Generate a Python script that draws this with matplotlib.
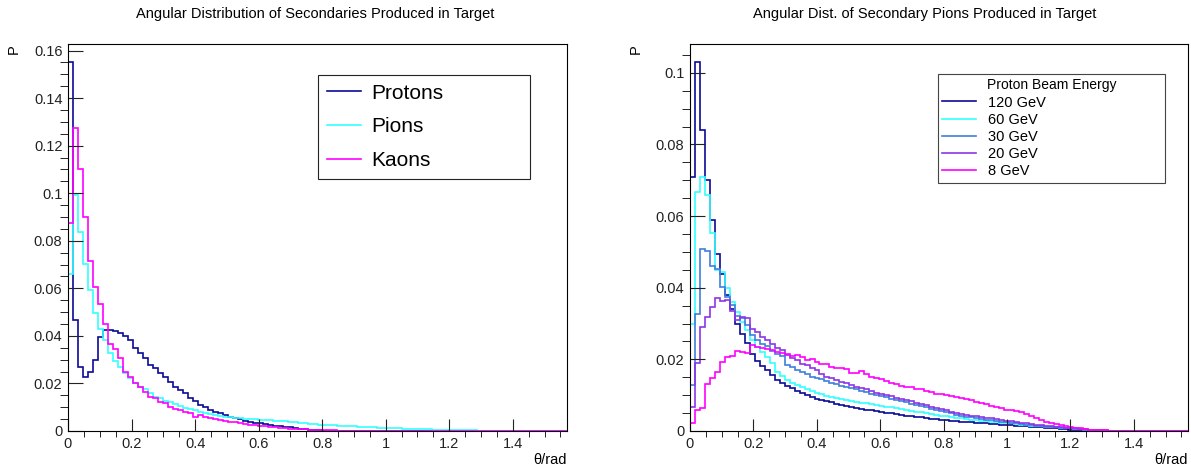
import numpy as np
import matplotlib
matplotlib.use('Agg')
import matplotlib.pyplot as plt
from matplotlib.ticker import MultipleLocator, FuncFormatter

plt.rcParams['font.family'] = ['Liberation Sans', 'DejaVu Sans']

# 100 bins over 0 .. pi/2
edges = np.linspace(0, np.pi / 2, 101)

# left panel: secondaries by species
protons = [0.155, 0.0465, 0.0270, 0.0228, 0.0249, 0.0298, 0.0395, 0.0426, 0.0423, 0.0419,
           0.0412, 0.0398, 0.0381, 0.0351, 0.0326, 0.0307, 0.0277, 0.0263, 0.0244, 0.0228,
           0.0207, 0.0186, 0.0172, 0.0158, 0.0137, 0.0127, 0.0109, 0.0102, 0.0088, 0.0081,
           0.0074, 0.0067, 0.0060, 0.0053, 0.0049, 0.0043, 0.0039, 0.0035, 0.0032, 0.0029,
           0.0026, 0.0023, 0.0020, 0.0018, 0.0015, 0.0013, 0.0010, 0.0008, 0.0006, 0.0005,
           0.0003, 0.0002, 0.0001] + [0.0] * 47
pions = [0.066, 0.0993, 0.0835, 0.0703, 0.0591, 0.0496, 0.0430, 0.0381, 0.0328, 0.0295,
         0.0270, 0.0244, 0.0221, 0.0203, 0.0186, 0.0175, 0.0158, 0.0144, 0.0137, 0.0127,
         0.0120, 0.0113, 0.0105, 0.0098, 0.0092, 0.0088, 0.0082, 0.0077, 0.0071, 0.0067,
         0.0063, 0.0060, 0.0057, 0.0055, 0.0053, 0.0051, 0.0050, 0.0049, 0.0048, 0.0047,
         0.0045, 0.0043, 0.0042, 0.0040, 0.0038, 0.0036, 0.0034, 0.0032, 0.0031, 0.0029,
         0.0027, 0.0026, 0.0025, 0.0024, 0.0022, 0.0021, 0.0020, 0.0019, 0.0018, 0.0017,
         0.0016, 0.0015, 0.0014, 0.0013, 0.0012, 0.0012, 0.0011, 0.0010, 0.0009, 0.0009,
         0.0008, 0.0007, 0.0007, 0.0006, 0.0006, 0.0005, 0.0005, 0.0004, 0.0004, 0.0003,
         0.0003, 0.0003, 0.0002, 0.0002, 0.0002, 0.0001, 0.0001, 0.0001] + [0.0] * 12
kaons = [0.0874, 0.1273, 0.1100, 0.0901, 0.0717, 0.0605, 0.0535, 0.0451, 0.0367, 0.0346,
         0.0305, 0.0249, 0.0228, 0.0203, 0.0186, 0.0165, 0.0144, 0.0137, 0.0123, 0.0116,
         0.0102, 0.0092, 0.0088, 0.0081, 0.0074, 0.0060, 0.0067, 0.0057, 0.0053, 0.0049,
         0.0046, 0.0042, 0.0039, 0.0036, 0.0032, 0.0029, 0.0025, 0.0024, 0.0022, 0.0020,
         0.0018, 0.0016, 0.0013, 0.0011, 0.0010, 0.0008, 0.0007, 0.0007, 0.0006, 0.0005,
         0.0004, 0.0004, 0.0003, 0.0003, 0.0002, 0.0002, 0.0002, 0.0001, 0.0001, 0.0001] + [0.0] * 40

# right panel: secondary pions by proton beam energy
pi_120 = [0.0709, 0.1029, 0.0841, 0.0701, 0.0588, 0.0495, 0.0439, 0.0379, 0.0340, 0.0300,
          0.0270, 0.0245, 0.0215, 0.0195, 0.0182, 0.0170, 0.0155, 0.0142, 0.0135, 0.0126,
          0.0120, 0.0112, 0.0106, 0.0100, 0.0095, 0.0090, 0.0086, 0.0083, 0.0080, 0.0076,
          0.0072, 0.0069, 0.0067, 0.0064, 0.0062, 0.0060, 0.0058, 0.0056, 0.0053, 0.0051,
          0.0049, 0.0047, 0.0045, 0.0043, 0.0041, 0.0039, 0.0038, 0.0036, 0.0034, 0.0033,
          0.0031, 0.0030, 0.0028, 0.0027, 0.0026, 0.0025, 0.0024, 0.0023, 0.0022, 0.0021,
          0.0020, 0.0019, 0.0018, 0.0017, 0.0016, 0.0015, 0.0014, 0.0013, 0.0012, 0.0011,
          0.0010, 0.0009, 0.0008, 0.0007, 0.0006, 0.0005, 0.0004, 0.0004, 0.0003, 0.0002,
          0.0002, 0.0001, 0.0001] + [0.0] * 17
pi_60 = [0.0300, 0.0667, 0.0709, 0.0658, 0.0553, 0.0450, 0.0445, 0.0398, 0.0360, 0.0333,
         0.0305, 0.0281, 0.0254, 0.0235, 0.0221, 0.0207, 0.0189, 0.0165, 0.0153, 0.0142,
         0.0133, 0.0128, 0.0122, 0.0117, 0.0112, 0.0107, 0.0103, 0.0099, 0.0096, 0.0093,
         0.0090, 0.0087, 0.0084, 0.0081, 0.0079, 0.0077, 0.0075, 0.0073, 0.0070, 0.0068,
         0.0066, 0.0063, 0.0061, 0.0059, 0.0056, 0.0054, 0.0052, 0.0050, 0.0047, 0.0045,
         0.0043, 0.0041, 0.0039, 0.0037, 0.0035, 0.0033, 0.0032, 0.0031, 0.0029, 0.0028,
         0.0026, 0.0025, 0.0023, 0.0022, 0.0021, 0.0019, 0.0018, 0.0017, 0.0015, 0.0014,
         0.0013, 0.0012, 0.0011, 0.0010, 0.0009, 0.0008, 0.0007, 0.0006, 0.0005, 0.0004,
         0.0003, 0.0003, 0.0002, 0.0001, 0.0001] + [0.0] * 15
pi_30 = [0.0128, 0.0328, 0.0509, 0.0503, 0.0460, 0.0452, 0.0402, 0.0374, 0.0352, 0.0320,
         0.0315, 0.0295, 0.0268, 0.0255, 0.0242, 0.0238, 0.0224, 0.0215, 0.0210, 0.0185,
         0.0178, 0.0170, 0.0165, 0.0158, 0.0152, 0.0148, 0.0144, 0.0140, 0.0134, 0.0130,
         0.0127, 0.0124, 0.0120, 0.0116, 0.0113, 0.0110, 0.0104, 0.0101, 0.0097, 0.0094,
         0.0090, 0.0086, 0.0083, 0.0080, 0.0076, 0.0072, 0.0069, 0.0066, 0.0062, 0.0058,
         0.0055, 0.0052, 0.0049, 0.0046, 0.0043, 0.0040, 0.0038, 0.0036, 0.0034, 0.0032,
         0.0030, 0.0028, 0.0026, 0.0024, 0.0022, 0.0021, 0.0019, 0.0018, 0.0016, 0.0015,
         0.0013, 0.0012, 0.0011, 0.0010, 0.0009, 0.0008, 0.0007, 0.0006, 0.0005, 0.0004,
         0.0003, 0.0002, 0.0002, 0.0001, 0.0001] + [0.0] * 15
pi_20 = [0.0068, 0.0189, 0.0290, 0.0319, 0.0347, 0.0372, 0.0362, 0.0367, 0.0335, 0.0309,
         0.0317, 0.0315, 0.0286, 0.0277, 0.0263, 0.0254, 0.0242, 0.0232, 0.0226, 0.0212,
         0.0205, 0.0198, 0.0188, 0.0184, 0.0175, 0.0170, 0.0160, 0.0152, 0.0148, 0.0142,
         0.0138, 0.0133, 0.0128, 0.0124, 0.0120, 0.0116, 0.0112, 0.0107, 0.0103, 0.0100,
         0.0097, 0.0093, 0.0090, 0.0087, 0.0083, 0.0079, 0.0076, 0.0072, 0.0068, 0.0065,
         0.0062, 0.0058, 0.0054, 0.0051, 0.0048, 0.0046, 0.0043, 0.0041, 0.0039, 0.0037,
         0.0035, 0.0033, 0.0031, 0.0029, 0.0027, 0.0025, 0.0023, 0.0021, 0.0019, 0.0018,
         0.0016, 0.0015, 0.0013, 0.0012, 0.0011, 0.0009, 0.0008, 0.0007, 0.0006, 0.0005,
         0.0004, 0.0003, 0.0002, 0.0002, 0.0001, 0.0001] + [0.0] * 14
pi_8 = [0.0021, 0.0059, 0.0063, 0.0131, 0.0147, 0.0165, 0.0193, 0.0207, 0.0210, 0.0222,
        0.0221, 0.0218, 0.0240, 0.0235, 0.0233, 0.0230, 0.0226, 0.0221, 0.0217, 0.0215,
        0.0210, 0.0212, 0.0206, 0.0198, 0.0200, 0.0193, 0.0186, 0.0188, 0.0180, 0.0177,
        0.0175, 0.0172, 0.0163, 0.0162, 0.0168, 0.0160, 0.0150, 0.0148, 0.0145, 0.0140,
        0.0134, 0.0130, 0.0127, 0.0124, 0.0122, 0.0118, 0.0116, 0.0113, 0.0110, 0.0104,
        0.0102, 0.0100, 0.0097, 0.0094, 0.0091, 0.0088, 0.0086, 0.0080, 0.0077, 0.0074,
        0.0071, 0.0068, 0.0063, 0.0060, 0.0058, 0.0056, 0.0052, 0.0047, 0.0042, 0.0036,
        0.0030, 0.0025, 0.0021, 0.0019, 0.0016, 0.0013, 0.0011, 0.0009, 0.0007, 0.0005,
        0.0004, 0.0003, 0.0002, 0.0002, 0.0001, 0.0001] + [0.0] * 14

species = ['Protons', 'Pions', 'Kaons']
species_colours = ['#0a0a96', '#33ffff', '#ff00ff']
energies = ['120 GeV', '60 GeV', '30 GeV', '20 GeV', '8 GeV']
energy_colours = ['#0a0a96', '#33ffff', '#3f7fdc', '#8c35e6', '#ff00ff']

W, H = 1191, 467
fig = plt.figure(figsize=(W / 100, H / 100), dpi=100)
ax1 = fig.add_axes([68 / W, 1 - 431 / H, 499 / W, 387 / H])
ax2 = fig.add_axes([690 / W, 1 - 431 / H, 498 / W, 387 / H])

fmt = FuncFormatter(lambda v, p: '%g' % round(v, 4))

def style(ax, ymax):
  ax.set_xlim(0, np.pi / 2)
  ax.set_ylim(0, ymax)
  ax.xaxis.set_major_locator(MultipleLocator(0.2))
  ax.xaxis.set_minor_locator(MultipleLocator(0.05))
  ax.yaxis.set_major_locator(MultipleLocator(0.02))
  ax.yaxis.set_minor_locator(MultipleLocator(0.005))
  ax.xaxis.set_major_formatter(fmt)
  ax.yaxis.set_major_formatter(fmt)
  ax.tick_params(direction='in', top=False, right=False, labelsize=10.5, colors='#222222')
  ax.tick_params(axis='y', which='major', length=11, pad=4)
  ax.tick_params(axis='y', which='minor', length=5.5)
  ax.tick_params(axis='x', which='major', length=8.5, pad=4)
  ax.tick_params(axis='x', which='minor', length=4)
  for s in ax.spines.values():
    s.set_linewidth(0.8)
  ax.set_xlabel('θ/rad', loc='right', fontsize=10.5, labelpad=2)
  ax.set_ylabel('P', loc='top', fontsize=10.5)
  # label sits left of the tick labels, top-aligned with the frame
  ax.yaxis.set_label_coords(-47 / ax.bbox.width, 1.0)

for vals, c, name in zip([protons, pions, kaons], species_colours, species):
  ax1.stairs(vals, edges, color=c, lw=1.2, label=name)
style(ax1, 1.05 * max(protons))

for vals, c, name in zip([pi_120, pi_60, pi_30, pi_20, pi_8], energy_colours, energies):
  ax2.stairs(vals, edges, color=c, lw=1.2, label=name)
style(ax2, 1.05 * max(pi_120))

leg1 = ax1.legend(loc='upper left', bbox_to_anchor=(318 / W, 1 - 178 / H, 212 / W, 103 / H),
                  bbox_transform=fig.transFigure, mode='expand', fontsize=15,
                  fancybox=False, edgecolor='#222222', framealpha=1,
                  handlelength=1.65, handletextpad=0.5, borderpad=0.42, labelspacing=0.7,
                  borderaxespad=0)
leg1.get_frame().set_linewidth(0.8)

leg2 = ax2.legend(loc='upper left', bbox_to_anchor=(938 / W, 1 - 186 / H, 227 / W, 112 / H),
                  bbox_transform=fig.transFigure, mode='expand', fontsize=10.5,
                  title='Proton Beam Energy', title_fontsize=10,
                  fancybox=False, edgecolor='#444444', framealpha=1,
                  handlelength=2.3, handletextpad=0.8, borderpad=0.3, labelspacing=0.22,
                  borderaxespad=0)
leg2.get_frame().set_linewidth(0.8)

fig.text(315 / W, 1 - 14 / H, 'Angular Distribution of Secondaries Produced in Target',
         ha='center', va='center', fontsize=10.5)
fig.text(925 / W, 1 - 14 / H, 'Angular Dist. of Secondary Pions Produced in Target',
         ha='center', va='center', fontsize=10.5)

fig.savefig('out.png', dpi=100)
